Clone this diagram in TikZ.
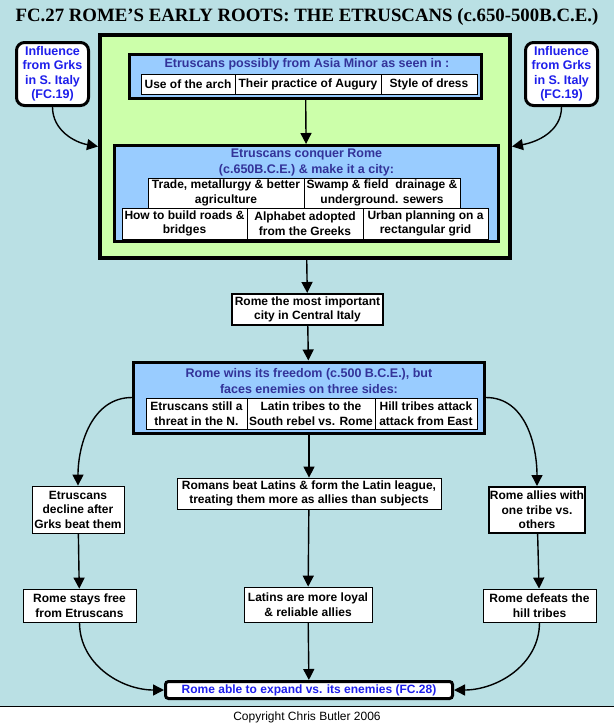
\documentclass[tikz,border=0pt]{standalone}
\usepackage{fontspec}
\setmainfont{Liberation Serif}
\setsansfont{Liberation Sans}
\usetikzlibrary{arrows.meta,positioning}
\definecolor{bgblue}{RGB}{186,224,228}
\definecolor{lime}{RGB}{204,255,170}
\definecolor{skyblue}{RGB}{153,204,255}
\definecolor{titleblue}{RGB}{51,51,153}
\definecolor{linkblue}{RGB}{30,30,235}
\newcommand{\cellfont}{\sffamily\bfseries\fontsize{12}{14.5}\selectfont}
\newcommand{\headfont}{\sffamily\bfseries\fontsize{12.5}{16}\selectfont}
\newcommand{\linkfont}{\sffamily\bfseries\fontsize{12.5}{14.5}\selectfont}

\begin{document}
\begin{tikzpicture}[x=1pt, y=-1pt,
  frame/.style={draw, line width=4pt, fill=lime, inner sep=0pt},
  group/.style={draw, line width=3pt, fill=skyblue, inner sep=0pt},
  cell/.style={draw, line width=0.8pt, fill=white, inner sep=0pt, align=center, font=\cellfont},
  fact/.style={draw, line width=2pt, fill=white, inner sep=0pt, align=center, font=\cellfont},
  head/.style={align=center, text=titleblue, inner sep=0pt, font=\headfont},
  link/.style={draw, line width=3pt, rounded corners=8pt, fill=white, inner sep=0pt,
               align=center, text=linkblue, font=\linkfont},
  arrow/.style={-{Triangle[length=11pt,width=11pt]}, line width=1.4pt}
]

% Background and footer
\useasboundingbox (0,0) rectangle (614,726);
\fill[bgblue] (0,0) rectangle (614,706);
\draw[line width=1pt] (0,706) -- (614,706);
\node[font=\sffamily\fontsize{12}{14}\selectfont] (copy) at (307,717) {Copyright Chris Butler 2006};

% Title
\node[font=\rmfamily\bfseries\fontsize{18.8}{22}\selectfont] (title) at (307,17)
  {FC.27 ROME’S EARLY ROOTS: THE ETRUSCANS (c.650-500B.C.E.)};

% Etruscan frame
\node[frame, minimum width=410pt, minimum height=223pt] (etr) at (305,146.5) {};

% Origins
\node[group, minimum width=352pt, minimum height=44pt] (origin) at (305.5,76.5) {};
\node[head] (originhead) at (307,64) {Etruscans possibly from Asia Minor as seen in :};
\node[cell, minimum width=94pt, minimum height=20pt] (arch) at (188,84) {Use of the arch};
\node[cell, minimum width=146pt, minimum height=20pt] (augury) at (308,84) {Their practice of Augury};
\node[cell, minimum width=96pt, minimum height=20pt] (dress) at (429,84) {Style of dress};

% Conquest
\node[group, minimum width=384pt, minimum height=96pt] (conquer) at (306.5,193.5) {};
\node[head] (conquerhead) at (306.5,162) {Etruscans conquer Rome\\(c.650B.C.E.) \& make it a city:};
\node[cell, minimum width=156pt, minimum height=30pt] (trade) at (226,193) {Trade, metallurgy \& better\\agriculture};
\node[cell, minimum width=156pt, minimum height=30pt] (swamp) at (382,193) {Swamp \& field\ \ drainage \&\\underground. sewers};
\node[cell, minimum width=125pt, minimum height=31pt] (roads) at (184.5,223.5) {How to build roads \&\\bridges};
\node[cell, minimum width=116pt, minimum height=31pt] (alphabet) at (305,223.5) {Alphabet adopted\\from the Greeks};
\node[cell, minimum width=125pt, minimum height=31pt] (grid) at (425.5,223.5) {Urban planning on a\\rectangular grid};

\draw[arrow] (origin) -- (conquer);

% Greek influence
\node[link, minimum width=72pt, minimum height=63pt] (grkL) at (52.5,74) {Influence\\from Grks\\in S. Italy\\(FC.19)};
\node[link, minimum width=72pt, minimum height=63pt] (grkR) at (561.5,74) {Influence\\from Grks\\in S. Italy\\(FC.19)};
\draw[arrow] (grkL.south) to[out=-90, in=170] (etr.west);
\draw[arrow] (grkR.south) to[out=-90, in=10] (etr.east);

% Rome as city
\node[fact, minimum width=151pt, minimum height=31pt] (central) at (307.5,309.5) {Rome the most important\\city in Central Italy};
\draw[arrow] (etr) -- (central);

% Freedom
\node[group, minimum width=351pt, minimum height=71pt] (freedom) at (309,397.5) {};
\node[head] (freedomhead) at (309,381.5) {Rome wins its freedom (c.500 B.C.E.), but\\faces enemies on three sides:};
\node[cell, minimum width=101pt, minimum height=31pt] (etrthreat) at (196.5,413.5) {Etruscans still a\\threat in the N.};
\node[cell, minimum width=128pt, minimum height=31pt] (latrebel) at (311,413.5) {Latin tribes to the\\South rebel vs. Rome};
\node[cell, minimum width=102pt, minimum height=31pt] (hillattack) at (426,413.5) {Hill tribes attack\\attack from East};
\draw[arrow] (central) -- (freedom);

% Three fronts
\node[cell, minimum width=92pt, minimum height=47pt] (decline) at (78,509.5) {Etruscans\\decline after\\Grks beat them};
\node[cell, minimum width=113pt, minimum height=33pt] (free) at (79.5,605.5) {Rome stays free\\from Etruscans};
\node[cell, minimum width=264pt, minimum height=31pt] (beat) at (309,493.5) {Romans beat Latins \& form the Latin league,\\treating them more as allies than subjects};
\node[cell, minimum width=128pt, minimum height=35pt] (loyal) at (308,604.5) {Latins are more loyal\\\& reliable allies};
\node[fact, minimum width=96pt, minimum height=46pt] (ally) at (537,510) {Rome allies with\\one tribe vs.\\others};
\node[cell, minimum width=113pt, minimum height=33pt] (defeat) at (539.5,605.5) {Rome defeats the\\hill tribes};

\draw[arrow] (freedom.west) to[out=180, in=90] (decline.north);
\draw[arrow] (decline) -- (free);
\draw[arrow] (freedom) -- (beat);
\draw[arrow] (beat) -- (loyal);
\draw[arrow] (freedom.east) to[out=0, in=90] (ally.north);
\draw[arrow] (ally) -- (defeat);

% Outcome
\node[link, rounded corners=3pt, font=\sffamily\bfseries\fontsize{12}{14}\selectfont,
      minimum width=287pt, minimum height=17pt] (expand) at (309,690) {Rome able to expand vs. its enemies (FC.28)};
\draw[arrow] (free.south) to[out=-90, in=180] (expand.west);
\draw[arrow] (loyal) -- (expand);
\draw[arrow] (defeat.south) to[out=-90, in=0] (expand.east);

\end{tikzpicture}
\end{document}
